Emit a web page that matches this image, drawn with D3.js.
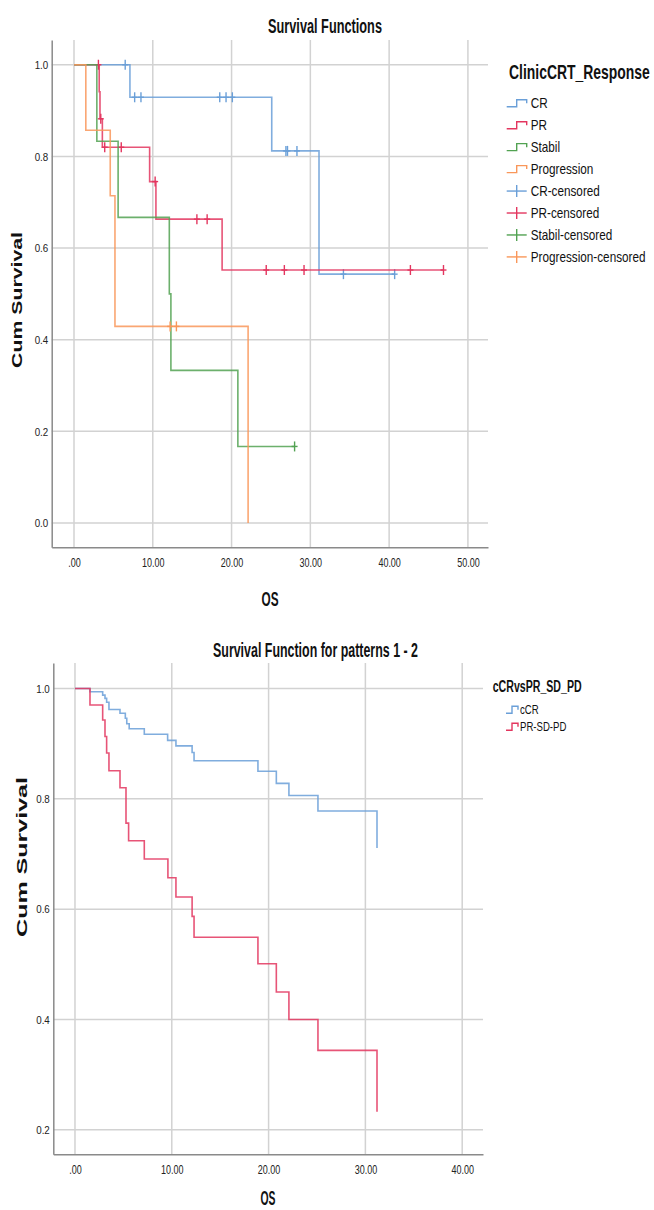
<!DOCTYPE html>
<html>
<head>
<meta charset="utf-8">
<script src="https://cdn.jsdelivr.net/npm/d3@7"></script>
<style>
  body { margin: 0; background: #fff; }
  svg { display: block; font-family: "Liberation Sans", Arial, sans-serif; }
  .grid line { stroke: #d2d2d2; stroke-width: 1.5; }
  .axis path { stroke: #8a8a8a; stroke-width: 1.5; }
  .axis text { fill: #222; }
  .km { fill: none; stroke-width: 1.6; stroke-opacity: 0.85; }
</style>
</head>
<body>
<div id="chart"></div>
<script>
// ---- top chart: ClinicCRT_Response ----
const TOP_X_TICKS = [0, 10, 20, 30, 40, 50]
const TOP_Y_TICKS = [0, 0.2, 0.4, 0.6, 0.8, 1.0]

const crTime = [0, 7.1, 25.1, 31.1]
const crSurv = [1, 0.929, 0.812, 0.543]
const crEnd = 40.7
const crCens = [6.5, 7.7, 8.5, 18.5, 19.3, 20.1, 26.9, 27.1, 28.3, 34.2, 40.7]

const prTime = [0, 3.2, 3.3, 3.6, 9.6, 10.4, 18.8]
const prSurv = [1, 0.941, 0.882, 0.820, 0.745, 0.663, 0.552]
const prEnd = 46.9
const prCens = [3.1, 3.4, 3.9, 6.0, 10.3, 15.6, 16.9, 24.4, 26.7, 29.2, 42.7, 46.9]

const stTime = [0, 2.9, 5.6, 12.1, 12.3, 20.8]
const stSurv = [1, 0.833, 0.667, 0.5, 0.333, 0.167]
const stEnd = 28.0
const stCens = [28.0]

const pgTime = [0, 1.5, 4.6, 5.2, 22.1]
const pgSurv = [1, 0.857, 0.714, 0.429, 0]
const pgEnd = 22.1
const pgCens = [12.2, 13.0]

const TOP_NAMES = ["CR", "PR", "Stabil", "Progression"]

// ---- bottom chart: cCRvsPR_SD_PD ----
const BOT_X_TICKS = [0, 10, 20, 30, 40]
const BOT_Y_TICKS = [0.2, 0.4, 0.6, 0.8, 1.0]

const ccrTime = [0, 1.55, 2.86, 3.1, 3.27, 3.51, 4.65, 5.2, 5.35, 5.6, 7.16, 9.57, 10.43, 12.1, 12.3, 18.9, 20.8, 22.1, 25.1, 31.2]
const ccrSurv = [1, 0.994, 0.988, 0.982, 0.975, 0.962, 0.955, 0.946, 0.936, 0.927, 0.917, 0.906, 0.896, 0.884, 0.869, 0.850, 0.828, 0.806, 0.778, 0.711]
const ccrEnd = 31.2

const psdTime = [0, 1.55, 2.86, 3.1, 3.27, 3.51, 4.65, 5.27, 5.54, 7.16, 9.6, 10.43, 12.1, 12.3, 18.9, 20.8, 22.1, 25.1, 31.2]
const psdSurv = [1, 0.970, 0.943, 0.913, 0.883, 0.851, 0.820, 0.756, 0.724, 0.691, 0.657, 0.622, 0.587, 0.549, 0.501, 0.450, 0.400, 0.344, 0.233]
const psdEnd = 31.2

const BOT_NAMES = ["cCR", "PR-SD-PD"]

const BLUE = "#6a9fd8"
const RED = "#e3365f"
const GREEN = "#52a252"
const ORANGE = "#f9975a"

const WIDTH = 654
const HEIGHT = 1210

const svg = d3.select("#chart").append("svg")
  .attr("width", WIDTH)
  .attr("height", HEIGHT)

// condensed look: scale text horizontally around its anchor (x, y)
function condense(sel, x, y, k) {
  sel.attr("x", 0).attr("y", 0)
    .attr("transform", `translate(${x},${y}) scale(${k},1)`)
}
// same, but scale so the text ends up w pixels wide
function condenseTo(sel, x, y, w) {
  const len = sel.node().getComputedTextLength()
  condense(sel, x, y, w / len)
}

function survAt(times, surv, t) {
  return surv[d3.bisectRight(times, t) - 1]
}

function drawPanel(cfg) {
  const x = d3.scaleLinear().domain(cfg.xDomain).range([cfg.left, cfg.right])
  const y = d3.scaleLinear().domain(cfg.yDomain).range([cfg.bottom, cfg.top])
  const g = svg.append("g")

  // grid
  const grid = g.append("g").attr("class", "grid")
  grid.selectAll(".gx").data(cfg.xTicks).enter().append("line")
    .attr("x1", d => x(d)).attr("x2", d => x(d))
    .attr("y1", cfg.top).attr("y2", cfg.bottom)
  grid.selectAll(".gy").data(cfg.yTicks).enter().append("line")
    .attr("x1", cfg.left).attr("x2", cfg.right)
    .attr("y1", d => y(d)).attr("y2", d => y(d))

  // axes
  const xAxis = d3.axisBottom(x).tickValues(cfg.xTicks)
    .tickFormat(d => d === 0 ? ".00" : d.toFixed(2))
    .tickSize(0).tickPadding(11.3)
  const xg = g.append("g").attr("class", "axis")
    .attr("transform", `translate(0,${cfg.bottom})`)
    .call(xAxis)
  xg.selectAll("text").attr("font-size", 12.5).attr("font-family", null)
    .attr("transform", "scale(0.72,1)")

  const yAxis = d3.axisLeft(y).tickValues(cfg.yTicks)
    .tickFormat(d3.format(".1f"))
    .tickSize(0).tickPadding(3.5)
  const yg = g.append("g").attr("class", "axis")
    .attr("transform", `translate(${cfg.left},0)`)
    .call(yAxis)
  yg.selectAll("text").attr("font-size", 11.5).attr("font-family", null)
    .attr("x", -3.5 / 0.85).attr("transform", "scale(0.85,1)")

  // series
  const line = d3.line().x(d => x(d[0])).y(d => y(d[1])).curve(d3.curveStepAfter)
  cfg.series.forEach(s => {
    const pts = s.time.map((t, i) => [t, s.surv[i]])
    pts.push([s.end, s.surv[s.surv.length - 1]])
    g.append("path").attr("class", "km").attr("stroke", s.color).attr("d", line(pts))
    const cg = g.append("g").attr("stroke", s.color).attr("stroke-width", 1.4)
    ;(s.cens || []).forEach(t => {
      const cx = x(t), cy = y(survAt(s.time, s.surv, t))
      cg.append("line").attr("x1", cx).attr("x2", cx).attr("y1", cy - 5).attr("y2", cy + 5)
      cg.append("line").attr("x1", cx - 3).attr("x2", cx + 3).attr("y1", cy).attr("y2", cy)
    })
  })

  // titles
  svg.append("text").text(cfg.title)
    .attr("text-anchor", "middle").attr("font-weight", "bold").attr("font-size", 21)
    .attr("fill", "#111")
    .call(condenseTo, cfg.titleX, cfg.titleY, cfg.titleW)
  svg.append("text").text("OS")
    .attr("text-anchor", "middle").attr("font-weight", "bold").attr("font-size", 21)
    .attr("fill", "#111")
    .call(condenseTo, cfg.osX, cfg.osY, cfg.osW)
  const cum = svg.append("text").text("Cum Survival")
    .attr("dy", "0.36em")
    .attr("text-anchor", "middle").attr("font-weight", "bold").attr("font-size", 21)
    .attr("fill", "#111")
  const cumK = cfg.cumW / cum.node().getComputedTextLength()
  cum.attr("transform", `translate(${cfg.cumX},${cfg.cumY}) rotate(-90) scale(${cumK},0.68)`)

  // legend
  const lg = svg.append("g")
  lg.append("text").text(cfg.legTitle)
    .attr("font-weight", "bold").attr("font-size", cfg.legTitleSize).attr("fill", "#111")
    .call(condenseTo, cfg.legTitleX, cfg.legTitleY, cfg.legTitleW)
  cfg.legItems.forEach((it, i) => {
    const by = cfg.legY0 + i * cfg.legStep
    const yc = by - cfg.legSize * 0.36
    const x0 = cfg.legSymX, w = cfg.legSymW
    if (it.kind === "step") {
      lg.append("path").attr("fill", "none").attr("stroke", it.color).attr("stroke-width", 1.4)
        .attr("d", `M${x0},${yc + 3.5}H${x0 + w / 2}V${yc - 3.5}H${x0 + w}V${yc}`)
    } else {
      lg.append("line").attr("stroke", it.color).attr("stroke-width", 1.4)
        .attr("x1", x0).attr("x2", x0 + w).attr("y1", yc).attr("y2", yc)
      lg.append("line").attr("stroke", it.color).attr("stroke-width", 1.4)
        .attr("x1", x0 + w / 2).attr("x2", x0 + w / 2).attr("y1", yc - 6).attr("y2", yc + 6)
    }
    lg.append("text").text(it.label)
      .attr("font-size", cfg.legSize).attr("fill", "#111")
      .call(condense, cfg.legTextX, by, cfg.legK)
  })
}

const topColors = [BLUE, RED, GREEN, ORANGE]
drawPanel({
  left: 51.7, right: 488, top: 40, bottom: 547.3,
  xDomain: [-2.83, 52.55], yDomain: [-0.0531, 1.054],
  xTicks: TOP_X_TICKS, yTicks: TOP_Y_TICKS,
  series: [
    { time: crTime, surv: crSurv, end: crEnd, cens: crCens, color: BLUE },
    { time: prTime, surv: prSurv, end: prEnd, cens: prCens, color: RED },
    { time: stTime, surv: stSurv, end: stEnd, cens: stCens, color: GREEN },
    { time: pgTime, surv: pgSurv, end: pgEnd, cens: pgCens, color: ORANGE }
  ],
  title: "Survival Functions", titleX: 325, titleY: 32.5, titleW: 114,
  osX: 270, osY: 606, osW: 17,
  cumX: 17, cumY: 300, cumW: 136,
  legTitle: "ClinicCRT_Response", legTitleX: 509, legTitleY: 79, legTitleW: 141, legTitleSize: 20,
  legItems: TOP_NAMES.map((n, i) => ({ label: n, color: topColors[i], kind: "step" }))
    .concat(TOP_NAMES.map((n, i) => ({ label: n + "-censored", color: topColors[i], kind: "cens" }))),
  legY0: 108.3, legStep: 21.95, legSize: 14, legK: 0.84,
  legSymX: 506.7, legSymW: 20, legTextX: 530.7
})

const botColors = [BLUE, RED]
drawPanel({
  left: 53.3, right: 483, top: 663, bottom: 1154.3,
  xDomain: [-2.24, 42.15], yDomain: [0.1557, 1.0462],
  xTicks: BOT_X_TICKS, yTicks: BOT_Y_TICKS,
  series: [
    { time: ccrTime, surv: ccrSurv, end: ccrEnd, color: BLUE },
    { time: psdTime, surv: psdSurv, end: psdEnd, color: RED }
  ],
  title: "Survival Function for patterns 1 - 2", titleX: 315.5, titleY: 656.5, titleW: 205,
  osX: 268, osY: 1205, osW: 15,
  cumX: 22, cumY: 857, cumW: 160,
  legTitle: "cCRvsPR_SD_PD", legTitleX: 492.7, legTitleY: 691.5, legTitleW: 89, legTitleSize: 17,
  legItems: BOT_NAMES.map((n, i) => ({ label: n, color: botColors[i], kind: "step" })),
  legY0: 714, legStep: 17, legSize: 12, legK: 0.8,
  legSymX: 506, legSymW: 12, legTextX: 520
})
</script>
</body>
</html>
